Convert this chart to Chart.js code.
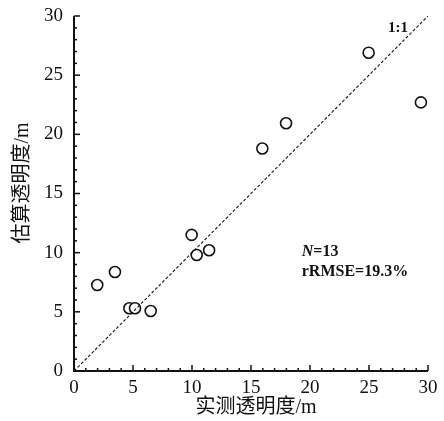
<!DOCTYPE html>
<html>
<head>
<meta charset="utf-8">
<script src="https://cdn.jsdelivr.net/npm/chart.js@4"></script>
<style>
  html, body { margin: 0; padding: 0; background: #fff; }
  #wrap { width: 444px; height: 421px; }
</style>
</head>
<body>
<div id="wrap"><canvas id="chart" width="444" height="421"></canvas></div>
<script>
// measured vs estimated transparency (m)
const measured  = [1.97, 3.47, 4.69, 5.17, 6.5, 9.97, 10.4, 11.45, 15.96, 17.97, 24.97, 29.4];
const estimated = [7.27, 8.37, 5.3, 5.3, 5.07, 11.5, 9.8, 10.2, 18.8, 20.94, 26.9, 22.7];
const oneToOne = [0, 30];
const tickValues = [0, 5, 10, 15, 20, 25, 30];
const statsText = ['N=13', 'rRMSE=19.3%'];
const xTitle = '实测透明度/m';
const yTitle = '估算透明度/m';

const serif = '"Liberation Serif", "Noto Sans CJK SC", serif';

// inward ticks, axis lines, titles and annotations
const decorations = {
  id: 'decorations',
  afterDraw(chart) {
    const ctx = chart.ctx;
    const xs = chart.scales.x, ys = chart.scales.y;
    const area = chart.chartArea;
    ctx.save();
    ctx.strokeStyle = '#111';
    ctx.lineWidth = 1.5;
    for (let v = 0; v <= 30; v++) {
      const len = v % 5 === 0 ? 6 : 3;
      const py = ys.getPixelForValue(v);
      ctx.beginPath();
      ctx.moveTo(area.left, py);
      ctx.lineTo(area.left + len, py);
      ctx.stroke();
      const px = xs.getPixelForValue(v);
      ctx.beginPath();
      ctx.moveTo(px, area.bottom);
      ctx.lineTo(px, area.bottom - len);
      ctx.stroke();
    }
    ctx.lineWidth = 2;
    ctx.beginPath();
    ctx.moveTo(area.left, ys.getPixelForValue(30));
    ctx.lineTo(area.left, area.bottom);
    ctx.lineTo(xs.getPixelForValue(30), area.bottom);
    ctx.stroke();

    ctx.fillStyle = '#111';
    ctx.textBaseline = 'middle';
    ctx.textAlign = 'center';
    ctx.font = '20px ' + serif;
    ctx.fillText(xTitle, 256, 408);
    ctx.save();
    ctx.translate(23, 183);
    ctx.rotate(-Math.PI / 2);
    ctx.fillText(yTitle, 0, 0);
    ctx.restore();

    ctx.textAlign = 'left';
    ctx.font = 'bold 15px ' + serif;
    ctx.fillText('1:1', xs.getPixelForValue(26.6), ys.getPixelForValue(29.0));

    const sx = xs.getPixelForValue(19.3);
    const y1 = ys.getPixelForValue(10.05);
    const y2 = ys.getPixelForValue(8.35);
    ctx.font = 'italic bold 16px ' + serif;
    ctx.fillText('N', sx, y1);
    const nw = ctx.measureText('N').width;
    ctx.font = 'bold 16px ' + serif;
    ctx.fillText(statsText[0].slice(1), sx + nw, y1);
    ctx.fillText(statsText[1], sx, y2);
    ctx.restore();
  }
};

new Chart(document.getElementById('chart'), {
  type: 'scatter',
  data: {
    datasets: [
      {
        label: '1:1',
        type: 'line',
        data: oneToOne.map(v => ({ x: v, y: v })),
        borderColor: '#111',
        borderWidth: 1.1,
        borderDash: [3, 2],
        pointRadius: 0,
        fill: false
      },
      {
        label: 'samples',
        data: measured.map((x, i) => ({ x: x, y: estimated[i] })),
        pointStyle: 'circle',
        pointRadius: 5.5,
        pointBorderWidth: 1.6,
        pointBorderColor: '#111',
        pointBackgroundColor: '#fff'
      }
    ]
  },
  options: {
    responsive: false,
    animation: false,
    layout: { padding: { top: 16, right: 16, left: 0, bottom: 0 } },
    plugins: { legend: { display: false }, tooltip: { enabled: false } },
    scales: {
      x: {
        type: 'linear',
        min: 0, max: 30,
        afterBuildTicks: s => { s.ticks = tickValues.map(v => ({ value: v })); },
        afterFit: s => { s.height = 50; s.paddingLeft = 0; s.paddingRight = 0; },
        grid: { display: false, drawTicks: false },
        border: { display: false },
        ticks: { color: '#111', padding: 6, font: { family: serif, size: 19 } },
        title: { display: false }
      },
      y: {
        type: 'linear',
        min: 0, max: 30,
        afterBuildTicks: s => { s.ticks = tickValues.map(v => ({ value: v })); },
        afterFit: s => { s.width = 74; s.paddingTop = 0; s.paddingBottom = 0; },
        grid: { display: false, drawTicks: false },
        border: { display: false },
        ticks: { color: '#111', padding: 11, font: { family: serif, size: 19 } },
        title: { display: false }
      }
    }
  },
  plugins: [decorations]
});
</script>
</body>
</html>
